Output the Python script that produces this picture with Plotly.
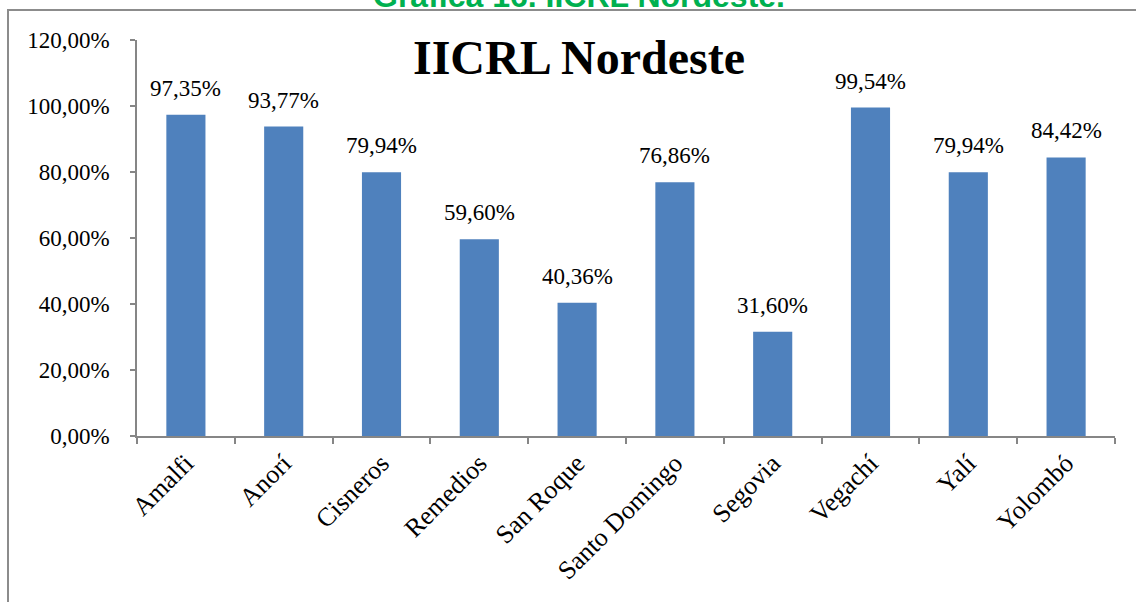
import plotly.graph_objects as go

# IICRL por municipio, subregión Nordeste
municipios = ["Amalfi", "Anorí", "Cisneros", "Remedios", "San Roque",
              "Santo Domingo", "Segovia", "Vegachí", "Yalí", "Yolombó"]
iicrl = [0.9735, 0.9377, 0.7994, 0.5960, 0.4036,
         0.7686, 0.3160, 0.9954, 0.7994, 0.8442]

W, H = 1136, 602
L, R, T, B = 137, 21, 40, 166
plot_w, plot_h = W - L - R, H - T - B

def px_x(x):
    return (x - L) / plot_w

def px_y(y):
    return (H - B - y) / plot_h

serif = "Liberation Serif"
axis_grey = "#868686"

fig = go.Figure()
fig.add_trace(go.Bar(
    x=municipios, y=iicrl,
    marker=dict(color="#4F81BD", line=dict(width=0)),
    hoverinfo="x+y",
))

annotations = []
for m, v in zip(municipios, iicrl):
    annotations.append(dict(
        x=m, y=v, xref="x", yref="y",
        text=f"{v*100:.2f}%".replace(".", ","),
        showarrow=False, yanchor="bottom", yshift=12,
        font=dict(family=serif, size=23, color="black"),
    ))

# chart title
annotations.append(dict(
    x=px_x(579), y=px_y(57), xref="paper", yref="paper",
    text="<b>IICRL Nordeste</b>", showarrow=False,
    xanchor="center", yanchor="middle",
    font=dict(family=serif, size=48, color="black"),
))
# caption above the frame
annotations.append(dict(
    x=px_x(579), y=px_y(-4), xref="paper", yref="paper",
    text="<b>Gráfica 16. IICRL Nordeste.</b>", showarrow=False,
    xanchor="center", yanchor="middle",
    font=dict(family="Liberation Sans", size=32, color="#00B050"),
))

fig.update_layout(
    width=W, height=H,
    margin=dict(l=L, r=R, t=T, b=B),
    paper_bgcolor="white", plot_bgcolor="white",
    separators=",.",
    bargap=0.6,
    showlegend=False,
    annotations=annotations,
    shapes=[dict(
        type="rect", xref="paper", yref="paper",
        x0=px_x(8), x1=px_x(W + 20), y0=px_y(H + 20), y1=px_y(10),
        line=dict(color="#8C8C8C", width=2), fillcolor="rgba(0,0,0,0)",
        layer="below",
    )],
    xaxis=dict(
        type="category",
        showline=True, linecolor=axis_grey, linewidth=1.5,
        ticks="outside", tickson="boundaries", ticklen=6,
        tickcolor=axis_grey, tickwidth=1.5,
        tickangle=-45,
        tickfont=dict(family=serif, size=26, color="black"),
        showgrid=False, zeroline=False,
    ),
    yaxis=dict(
        range=[0, 1.2], dtick=0.2, tick0=0,
        tickformat=".2%",
        showline=True, linecolor=axis_grey, linewidth=1.5,
        ticks="outside", ticklen=5, tickcolor=axis_grey, tickwidth=1.5,
        ticklabelstandoff=16,
        tickfont=dict(family=serif, size=23, color="black"),
        showgrid=False, zeroline=False,
    ),
)

fig.write_html("out.html")
